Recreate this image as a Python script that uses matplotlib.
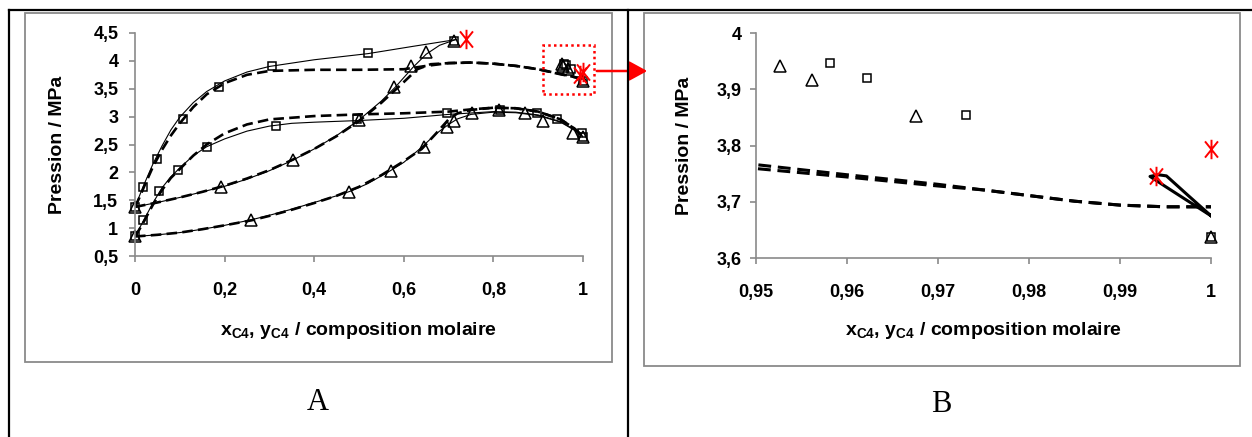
import matplotlib
matplotlib.use('Agg')
import matplotlib.pyplot as plt
from matplotlib.patches import Rectangle, FancyArrowPatch
from matplotlib.lines import Line2D
from matplotlib.path import Path
from matplotlib.ticker import FuncFormatter, MultipleLocator

plt.rcParams['font.family'] = ['Liberation Sans', 'DejaVu Sans']
plt.rcParams['font.weight'] = 'bold'
plt.rcParams['mathtext.fontset'] = 'custom'
plt.rcParams['mathtext.rm'] = 'Liberation Sans:bold'
plt.rcParams['mathtext.it'] = 'Liberation Sans:bold'
plt.rcParams['mathtext.bf'] = 'Liberation Sans:bold'
plt.rcParams['mathtext.default'] = 'rm'

# ---- experimental points, upper isotherm (squares = liquid, triangles = vapour)
t1_bub_x = [0, 0.018, 0.049, 0.107, 0.188, 0.305, 0.519, 0.712, 0.9581, 0.9622, 0.9731, 1.0]
t1_bub_p = [1.38, 1.74, 2.24, 2.96, 3.53, 3.91, 4.15, 4.36, 3.946, 3.920, 3.854, 3.638]
t1_dew_x = [0, 0.191, 0.353, 0.499, 0.579, 0.617, 0.650, 0.712, 0.9526, 0.9562, 0.9676, 1.0]
t1_dew_p = [1.38, 1.73, 2.22, 2.94, 3.53, 3.90, 4.16, 4.36, 3.942, 3.916, 3.852, 3.638]

# ---- experimental points, lower isotherm
t2_bub_x = [0, 0.0186, 0.054, 0.095, 0.16, 0.315, 0.495, 0.696, 0.815, 0.898, 0.941, 0.997, 1.0]
t2_bub_p = [0.85, 1.15, 1.67, 2.04, 2.46, 2.84, 2.95, 3.06, 3.12, 3.06, 2.95, 2.71, 2.64]
t2_dew_x = [0, 0.26, 0.478, 0.571, 0.644, 0.696, 0.712, 0.752, 0.813, 0.871, 0.911, 0.978, 0.999]
t2_dew_p = [0.85, 1.15, 1.65, 2.03, 2.46, 2.82, 2.93, 3.06, 3.11, 3.07, 2.93, 2.70, 2.63]

# critical points (red stars)
crit_x = [0.738, 0.9940, 1.0]
crit_p = [4.40, 3.746, 3.794]

# ---- model 1 (solid lines)
s1_bub_x = [0, 0.01, 0.02, 0.04, 0.06, 0.08, 0.1, 0.13, 0.16, 0.2, 0.25, 0.3, 0.4, 0.52, 0.62, 0.715]
s1_bub_p = [1.38, 1.58, 1.78, 2.15, 2.47, 2.76, 2.99, 3.25, 3.45, 3.64, 3.8, 3.9, 4.02, 4.13, 4.26, 4.38]
s1_dew_x = [0, 0.05, 0.1, 0.15, 0.2, 0.25, 0.3, 0.35, 0.4, 0.45, 0.5, 0.55, 0.58, 0.62, 0.65, 0.68, 0.715]
s1_dew_p = [1.38, 1.46, 1.55, 1.65, 1.75, 1.88, 2.03, 2.21, 2.42, 2.66, 2.94, 3.28, 3.52, 3.88, 4.12, 4.28, 4.38]
s1_loop_x = [1.0, 0.9975, 0.9951, 0.9942, 0.9933, 0.9950, 0.9975, 1.0]
s1_loop_p = [3.675, 3.711, 3.746, 3.748, 3.745, 3.727, 3.701, 3.675]

s2_bub_x = [0, 0.01, 0.02, 0.04, 0.06, 0.08, 0.1, 0.13, 0.16, 0.2, 0.25, 0.3, 0.35, 0.4, 0.5, 0.6, 0.7, 0.8, 0.85, 0.9, 0.95, 0.98, 1.0]
s2_bub_p = [0.85, 1.0, 1.15, 1.45, 1.72, 1.92, 2.08, 2.30, 2.46, 2.6, 2.74, 2.83, 2.88, 2.9, 2.93, 2.97, 3.04, 3.09, 3.08, 3.03, 2.91, 2.77, 2.64]
s2_dew_x = [0, 0.05, 0.1, 0.15, 0.2, 0.26, 0.3, 0.35, 0.4, 0.45, 0.48, 0.52, 0.57, 0.6, 0.64, 0.67, 0.7, 0.72, 0.75, 0.8, 0.85, 0.9, 0.95, 0.98, 1.0]
s2_dew_p = [0.85, 0.88, 0.92, 0.98, 1.05, 1.15, 1.23, 1.34, 1.46, 1.58, 1.66, 1.8, 2.03, 2.18, 2.45, 2.68, 2.86, 2.96, 3.04, 3.08, 3.07, 3.02, 2.9, 2.76, 2.64]

# ---- model 2 (dashed lines)
d1_bub_x = [0, 0.01, 0.02, 0.04, 0.06, 0.08, 0.1, 0.13, 0.16, 0.2, 0.25, 0.3, 0.4, 0.5, 0.6, 0.65, 0.7, 0.75, 0.8, 0.85, 0.9,
            0.95, 0.96, 0.97, 0.975, 0.98, 0.985, 0.99, 0.995, 1.0]
d1_bub_p = [1.38, 1.55, 1.74, 2.1, 2.4, 2.66, 2.88, 3.17, 3.4, 3.6, 3.75, 3.82, 3.84, 3.84, 3.85, 3.91, 3.96, 3.97, 3.95, 3.91, 3.85,
            3.766, 3.748, 3.731, 3.721, 3.711, 3.701, 3.694, 3.691, 3.691]
d1_dew_x = [0, 0.05, 0.1, 0.15, 0.2, 0.25, 0.3, 0.35, 0.4, 0.45, 0.5, 0.55, 0.6, 0.63, 0.66, 0.7, 0.75, 0.8, 0.85, 0.9,
            0.95, 0.96, 0.97, 0.975, 0.98, 0.985, 0.99, 0.995, 1.0]
d1_dew_p = [1.38, 1.46, 1.55, 1.65, 1.76, 1.89, 2.04, 2.22, 2.42, 2.65, 2.92, 3.25, 3.62, 3.85, 3.94, 3.96, 3.97, 3.95, 3.91, 3.85,
            3.759, 3.744, 3.728, 3.721, 3.711, 3.701, 3.694, 3.691, 3.691]
d2_bub_x = [0, 0.01, 0.02, 0.04, 0.06, 0.08, 0.1, 0.13, 0.16, 0.2, 0.25, 0.3, 0.4, 0.5, 0.6, 0.7, 0.75, 0.8, 0.85, 0.9, 0.95, 0.98, 1.0]
d2_bub_p = [0.85, 0.98, 1.12, 1.42, 1.68, 1.9, 2.06, 2.3, 2.5, 2.7, 2.86, 2.95, 3.01, 3.04, 3.06, 3.09, 3.13, 3.16, 3.15, 3.09, 2.95, 2.79, 2.65]
d2_dew_x = [0, 0.05, 0.1, 0.15, 0.2, 0.26, 0.3, 0.35, 0.4, 0.45, 0.5, 0.55, 0.6, 0.64, 0.67, 0.7, 0.72, 0.75, 0.8, 0.85, 0.9, 0.95, 0.98, 1.0]
d2_dew_p = [0.85, 0.88, 0.92, 0.98, 1.05, 1.14, 1.22, 1.33, 1.45, 1.58, 1.74, 1.95, 2.2, 2.42, 2.68, 2.95, 3.06, 3.12, 3.16, 3.15, 3.09, 2.95, 2.79, 2.65]

W, H = 1252, 437
fig = plt.figure(figsize=(W / 100, H / 100), dpi=100)


def px_axes(x0, y0, x1, y1):
    return fig.add_axes([x0 / W, 1 - y1 / H, (x1 - x0) / W, (y1 - y0) / H])


def fx(x):
    return x / W


def fy(y):
    return 1 - y / H


star = Path([(-0.4, -0.5), (0.4, 0.5), (-0.4, 0.5), (0.4, -0.5), (0, -0.6), (0, 0.6)],
            [Path.MOVETO, Path.LINETO, Path.MOVETO, Path.LINETO, Path.MOVETO, Path.LINETO])
comma = FuncFormatter(lambda v, _: f'{v:g}'.replace('.', ','))
grey = '#8a8a8a'


def inside(xs, ps, xlim, ylim):
    # keep only the points that lie in the visible window (markers are drawn unclipped)
    pts = [(x, p) for x, p in zip(xs, ps) if xlim[0] - 1e-9 <= x <= xlim[1] + 1e-9 and ylim[0] <= p <= ylim[1]]
    return [a for a, _ in pts], [b for _, b in pts]


def draw_panel(ax, xlim, ylim, lw_s, lw_d, dash, ms_sq, ms_tr, zoom):
    for xs, ps in [(s1_bub_x, s1_bub_p), (s1_dew_x, s1_dew_p), (s2_bub_x, s2_bub_p), (s2_dew_x, s2_dew_p)]:
        ax.plot(xs, ps, color='black', lw=lw_s)
    ax.plot(s1_loop_x, s1_loop_p, color='black', lw=lw_d if zoom else lw_s)
    for xs, ps in [(d1_bub_x, d1_bub_p), (d1_dew_x, d1_dew_p), (d2_bub_x, d2_bub_p), (d2_dew_x, d2_dew_p)]:
        ax.plot(xs, ps, color='black', lw=lw_d, dashes=dash)
    for xs, ps in [(t1_bub_x, t1_bub_p), (t2_bub_x, t2_bub_p)]:
        xs, ps = inside(xs, ps, xlim, ylim)
        ax.plot(xs, ps, ls='none', marker='s', ms=ms_sq, mfc='none', mec='black', mew=1.1, clip_on=False)
    for xs, ps in [(t1_dew_x, t1_dew_p), (t2_dew_x, t2_dew_p)]:
        xs, ps = inside(xs, ps, xlim, ylim)
        ax.plot(xs, ps, ls='none', marker='^', ms=ms_tr, mfc='none', mec='black', mew=1.1, clip_on=False)
    xs, ps = inside(crit_x, crit_p, xlim, ylim)
    ax.plot(xs, ps, ls='none', marker=star, ms=14, mfc='none', mec='red', mew=1.4, clip_on=False)
    ax.set_xlim(*xlim)
    ax.set_ylim(*ylim)
    for s in ['top', 'right']:
        ax.spines[s].set_visible(False)
    for s in ['left', 'bottom']:
        ax.spines[s].set_color(grey)
        ax.spines[s].set_linewidth(1.2)
    ax.xaxis.set_major_formatter(comma)
    ax.yaxis.set_major_formatter(comma)
    ax.tick_params(colors=grey, width=1.2, length=4, labelsize=13, labelcolor='black')
    ax.set_ylabel('Pression / MPa', fontsize=14, fontweight='bold')
    ax.set_xlabel('x$_{C4}$, y$_{C4}$ / composition molaire', fontsize=14, fontweight='bold')
    ax.xaxis.label.set_va('center')
    ax.yaxis.label.set_va('center')
    ax.patch.set_alpha(0)


# panel A
axA = px_axes(135, 33, 583, 256)
draw_panel(axA, (0, 1), (0.5, 4.5), 0.8, 1.9, (4, 2), 6, 8, False)
axA.xaxis.set_major_locator(MultipleLocator(0.2))
axA.yaxis.set_major_locator(MultipleLocator(0.5))
axA.tick_params(axis='x', pad=15)
axA.tick_params(axis='y', pad=8)
axA.xaxis.set_label_coords(0.5, -0.336)
axA.yaxis.set_label_coords(-0.174, 0.5)

# panel B (zoom near pure C4)
axB = px_axes(756, 33, 1211, 258)
draw_panel(axB, (0.95, 1.0), (3.6, 4.0), 2.2, 2.2, (4.2, 2.2), 6, 8, True)
axB.xaxis.set_major_locator(MultipleLocator(0.01))
axB.yaxis.set_major_locator(MultipleLocator(0.1))
axB.tick_params(axis='x', pad=15)
axB.tick_params(axis='y', pad=6)
axB.xaxis.set_label_coords(0.5, -0.324)
axB.yaxis.set_label_coords(-0.158, 0.5)

# grey chart frames
fig.add_artist(Rectangle((fx(25), fy(362)), (612 - 25) / W, (362 - 13) / H, transform=fig.transFigure,
                         fill=False, ec=grey, lw=1.3))
fig.add_artist(Rectangle((fx(644), fy(366)), (1240 - 644) / W, (366 - 13) / H, transform=fig.transFigure,
                         fill=False, ec=grey, lw=1.3))

# table borders
for (x0, y0, x1, y1) in [(9, 10, 1252, 10), (9, 10, 9, 437), (628, 10, 628, 437)]:
    fig.add_artist(Line2D([fx(x0), fx(x1)], [fy(y0), fy(y1)], transform=fig.transFigure, color='black', lw=1.6))

# red dotted zoom box and arrow
fig.add_artist(Rectangle((fx(543), fy(94)), 51 / W, 49 / H, transform=fig.transFigure,
                         fill=False, ec='red', lw=1.8, ls=(0, (1, 1.3))))
fig.add_artist(FancyArrowPatch((fx(594), fy(71)), (fx(650), fy(71)), transform=fig.transFigure,
                               arrowstyle='-|>,head_length=0.55,head_width=0.3', mutation_scale=20,
                               color='red', lw=1.8))

fig.text(fx(318), fy(403), 'A', ha='center', va='center', fontsize=22, family='Liberation Serif', fontweight='normal')
fig.text(fx(941), fy(405), 'B', ha='center', va='center', fontsize=22, family='Liberation Serif', fontweight='normal')

fig.savefig('out.png', dpi=100)
